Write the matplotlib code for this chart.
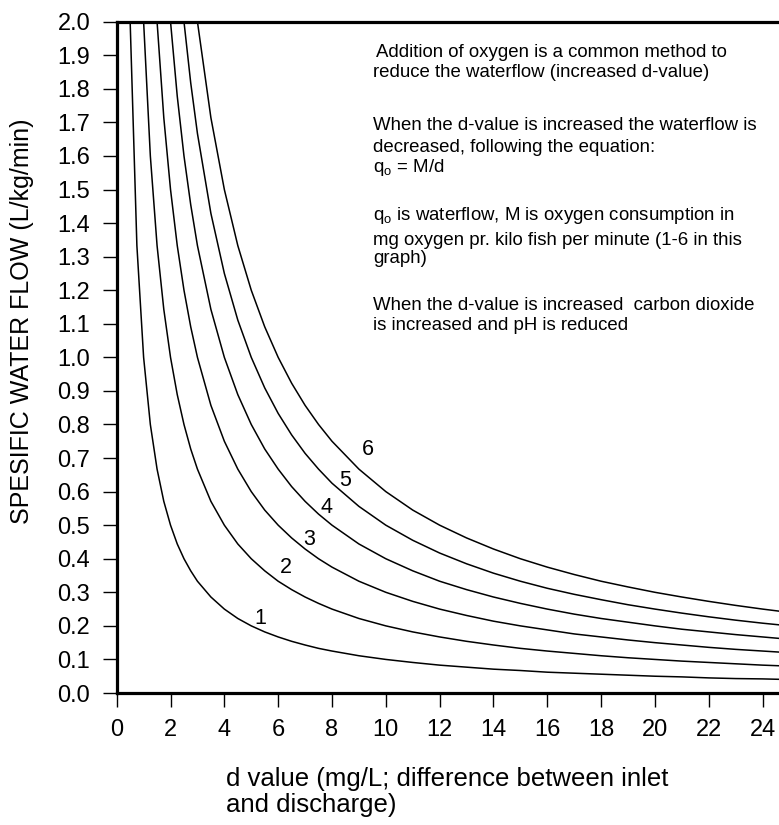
import matplotlib
matplotlib.use("Agg")
import matplotlib.pyplot as plt

plt.rcParams['font.family'] = ['Liberation Sans', 'DejaVu Sans']
plt.rcParams['mathtext.fontset'] = 'custom'
plt.rcParams['mathtext.rm'] = 'Liberation Sans'

# ---------- Data ----------
d_values = [0.5, 0.75, 1, 1.25, 1.5, 1.75, 2, 2.25, 2.5, 2.75, 3, 3.5, 4, 4.5, 5, 5.5, 6, 6.5,
            7, 7.5, 8, 9, 10, 11, 12, 13, 14, 15, 16, 17, 18, 19, 20, 21, 22, 23, 24, 25]

flow_m1 = [2.0, 1.333, 1.0, 0.8, 0.667, 0.571, 0.5, 0.444, 0.4, 0.364, 0.333, 0.286, 0.25,
           0.222, 0.2, 0.182, 0.167, 0.154, 0.143, 0.133, 0.125, 0.111, 0.1, 0.091, 0.083,
           0.077, 0.071, 0.067, 0.062, 0.059, 0.056, 0.053, 0.05, 0.048, 0.045, 0.043, 0.042, 0.04]
flow_m2 = [4.0, 2.667, 2.0, 1.6, 1.333, 1.143, 1.0, 0.889, 0.8, 0.727, 0.667, 0.571, 0.5,
           0.444, 0.4, 0.364, 0.333, 0.308, 0.286, 0.267, 0.25, 0.222, 0.2, 0.182, 0.167,
           0.154, 0.143, 0.133, 0.125, 0.118, 0.111, 0.105, 0.1, 0.095, 0.091, 0.087, 0.083, 0.08]
flow_m3 = [6.0, 4.0, 3.0, 2.4, 2.0, 1.714, 1.5, 1.333, 1.2, 1.091, 1.0, 0.857, 0.75,
           0.667, 0.6, 0.545, 0.5, 0.462, 0.429, 0.4, 0.375, 0.333, 0.3, 0.273, 0.25,
           0.231, 0.214, 0.2, 0.188, 0.176, 0.167, 0.158, 0.15, 0.143, 0.136, 0.13, 0.125, 0.12]
flow_m4 = [8.0, 5.333, 4.0, 3.2, 2.667, 2.286, 2.0, 1.778, 1.6, 1.455, 1.333, 1.143, 1.0,
           0.889, 0.8, 0.727, 0.667, 0.615, 0.571, 0.533, 0.5, 0.444, 0.4, 0.364, 0.333,
           0.308, 0.286, 0.267, 0.25, 0.235, 0.222, 0.211, 0.2, 0.19, 0.182, 0.174, 0.167, 0.16]
flow_m5 = [10.0, 6.667, 5.0, 4.0, 3.333, 2.857, 2.5, 2.222, 2.0, 1.818, 1.667, 1.429, 1.25,
           1.111, 1.0, 0.909, 0.833, 0.769, 0.714, 0.667, 0.625, 0.556, 0.5, 0.455, 0.417,
           0.385, 0.357, 0.333, 0.312, 0.294, 0.278, 0.263, 0.25, 0.238, 0.227, 0.217, 0.208, 0.2]
flow_m6 = [12.0, 8.0, 6.0, 4.8, 4.0, 3.429, 3.0, 2.667, 2.4, 2.182, 2.0, 1.714, 1.5,
           1.333, 1.2, 1.091, 1.0, 0.923, 0.857, 0.8, 0.75, 0.667, 0.6, 0.545, 0.5,
           0.462, 0.429, 0.4, 0.375, 0.353, 0.333, 0.316, 0.3, 0.286, 0.273, 0.261, 0.25, 0.24]

curve_labels = ['1', '2', '3', '4', '5', '6']
label_x = [5.35, 6.29, 7.15, 7.78, 8.49, 9.35]
label_y = [0.223, 0.375, 0.456, 0.553, 0.633, 0.724]

x_ticks = list(range(0, 25, 2))
y_ticks = [round(0.1 * i, 1) for i in range(21)]

# ---------- Plotting ----------
W, H = 779, 825
fig = plt.figure(figsize=(W / 100, H / 100), dpi=100)
# axes runs a bit past the right edge of the picture, like the original
left, right, bottom, top = 116.7, 789.5, 693.0, 21.7
ax = fig.add_axes([left / W, 1 - bottom / H, (right - left) / W, (bottom - top) / H])

for flow in [flow_m1, flow_m2, flow_m3, flow_m4, flow_m5, flow_m6]:
    ax.plot(d_values, flow, color='black', lw=1.1)

for lab, lx, ly in zip(curve_labels, label_x, label_y):
    ax.text(lx, ly, lab, fontsize=15.5, ha='center', va='center')

ax.set_xlim(0, 25)
ax.set_ylim(0, 2.0)
ax.set_xticks(x_ticks)
ax.set_yticks(y_ticks)
ax.set_yticklabels([f'{v:.1f}' for v in y_ticks])
ax.tick_params(axis='both', direction='out', length=10, width=1.0, labelsize=17)
ax.tick_params(axis='y', pad=9)
ax.tick_params(axis='x', pad=9)
for side in ['left', 'bottom', 'top']:
    ax.spines[side].set_linewidth(2.3)
ax.spines['right'].set_visible(False)

fig.text(22.5 / W, 1 - 321.5 / H, 'SPESIFIC WATER FLOW (L/kg/min)', rotation=90,
         fontsize=18, ha='center', va='center')
fig.text(226 / W, 1 - 792 / H, 'd value (mg/L; difference between inlet\nand discharge)',
         fontsize=18.5, ha='left', va='center', linespacing=1.12)

# ---------- Notes ----------
notes = [
    (376, 56.7, 'Addition of oxygen is a common method to'),
    (373, 76.7, 'reduce the waterflow (increased d-value)'),
    (373, 130, 'When the d-value is increased the waterflow is'),
    (373, 151.7, 'decreased, following the equation:'),
    (373, 171.7, 'q$_{\\mathrm{o}}$ = M/d'),
    (373, 220, 'q$_{\\mathrm{o}}$ is waterflow, M is oxygen consumption in'),
    (373, 245, 'mg oxygen pr. kilo fish per minute (1-6 in this'),
    (373, 263, 'graph)'),
    (373, 310, 'When the d-value is increased  carbon dioxide'),
    (373, 330, 'is increased and pH is reduced'),
]
for px, py, txt in notes:
    fig.text(px / W, 1 - py / H, txt, fontsize=13.4, ha='left', va='baseline')

fig.savefig('out.png', dpi=100)
